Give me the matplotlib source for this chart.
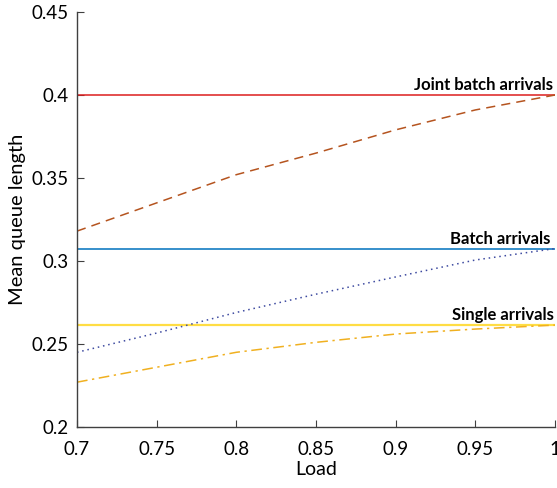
import matplotlib
matplotlib.use("Agg")
import matplotlib.pyplot as plt
import numpy as np

plt.rcParams['font.family'] = ['Lato', 'DejaVu Sans']

load = [0.7, 0.75, 0.8, 0.85, 0.9, 0.95, 1.0]

# limits (horizontal lines)
joint_limit = 0.400
batch_limit = 0.3075
single_limit = 0.2614

# curves
joint_batch = [0.318, 0.335, 0.352, 0.365, 0.379, 0.391, 0.400]
batch = [0.245, 0.2566, 0.269, 0.280, 0.2904, 0.3006, 0.3075]
single = [0.227, 0.236, 0.245, 0.251, 0.256, 0.259, 0.2614]

fig = plt.figure(figsize=(5.57, 4.88), dpi=100)
ax = fig.add_axes([0.1382, 0.125, 0.8582, 0.8504])

ax.axhline(joint_limit, color='#dc1e1e', lw=1.1)
ax.axhline(batch_limit, color='#0072bd', lw=1.1)
ax.axhline(single_limit, color='#ffdd44', lw=1.6)

ax.plot(load, joint_batch, color='#b5541f', lw=1.1, ls=(0, (6, 4)))
ax.plot(load, batch, color='#3d4aa0', lw=1.1, ls=(0, (1, 2.5)))
ax.plot(load, single, color='#f0b020', lw=1.1, ls=(0, (7, 3, 1.5, 3)))

ax.text(0.999, joint_limit + 0.001, 'Joint batch arrivals', ha='right', va='bottom',
        fontsize=12, fontweight='bold')
ax.text(0.997, batch_limit + 0.001, 'Batch arrivals', ha='right', va='bottom',
        fontsize=12, fontweight='bold')
ax.text(0.999, single_limit + 0.001, 'Single arrivals', ha='right', va='bottom',
        fontsize=12, fontweight='bold')

ax.set_xlim(0.7, 1.0)
ax.set_ylim(0.2, 0.45)
ax.set_xticks([0.7, 0.75, 0.8, 0.85, 0.9, 0.95, 1.0])
ax.set_xticklabels(['0.7', '0.75', '0.8', '0.85', '0.9', '0.95', '1'])
ax.set_yticks([0.2, 0.25, 0.3, 0.35, 0.4, 0.45])
ax.set_yticklabels(['0.2', '0.25', '0.3', '0.35', '0.4', '0.45'])

for s in ['top', 'right']:
    ax.spines[s].set_visible(False)
for s in ['left', 'bottom']:
    ax.spines[s].set_color('#404040')
    ax.spines[s].set_linewidth(1.0)
ax.tick_params(direction='in', length=5, color='#404040', labelsize=13.5)
ax.tick_params(axis='x', pad=10)
ax.tick_params(axis='y', pad=6)

ax.set_xlabel('Load', fontsize=14, labelpad=2)
ax.set_ylabel('Mean queue length', fontsize=14.5, labelpad=4)

fig.savefig('out.png', dpi=100)
